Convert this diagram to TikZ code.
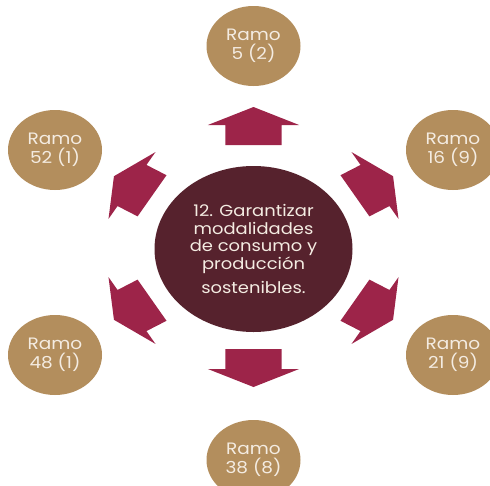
\documentclass[tikz,border=0pt]{standalone}
\usepackage{fontspec}
\setmainfont{Poppins}[FakeStretch=1.12]
\usetikzlibrary{shapes.geometric}
\definecolor{dorado}{HTML}{B38E5D}
\definecolor{guinda}{HTML}{9D2449}
\definecolor{vino}{HTML}{56222D}
\definecolor{crema}{HTML}{F4ECE2}
\tikzset{
  ramo/.style={ellipse, fill=dorado, text=crema, minimum width=94pt,
    minimum height=80pt, inner sep=0pt, align=center,
    font=\fontsize{16.5}{19.5}\selectfont},
  objetivo/.style={ellipse, fill=vino, text=crema, minimum width=198pt,
    minimum height=166pt, inner sep=0pt, align=center,
    font=\fontsize{16}{17.5}\selectfont},
  flecha/.style={fill=guinda},
}

\begin{document}
\begin{tikzpicture}[x=1pt, y=-1pt]
  \useasboundingbox (0,0) rectangle (490,485);
  \node[objetivo] (obj) at (253.5,249) {12. Garantizar\\modalidades\\de consumo y\\producción\\[7pt]sostenibles.};
  \node[ramo] (r5) at (253.5,46) {Ramo\\5 (2)};
  \node[ramo] (r16) at (453,150) {Ramo\\16 (9)};
  \node[ramo] (r21) at (453,355) {Ramo\\21 (9)};
  \node[ramo] (r38) at (253.5,460) {Ramo\\38 (8)};
  \node[ramo] (r48) at (55,355) {Ramo\\48 (1)};
  \node[ramo] (r52) at (55,150) {Ramo\\52 (1)};
  % flechas
  \foreach \pos/\ang in {{253.5,126}/90, {374,186}/31, {374,310}/-31,
      {253.5,368}/-90, {133,310}/-149, {133,186}/149}
    \fill[flecha, shift={(\pos)}, xscale=1.17, rotate=\ang]
      (-19,-24) -- (1,-24) -- (1,-39) -- (19,0) -- (1,39) -- (1,24) -- (-19,24) -- cycle;
\end{tikzpicture}
\end{document}
